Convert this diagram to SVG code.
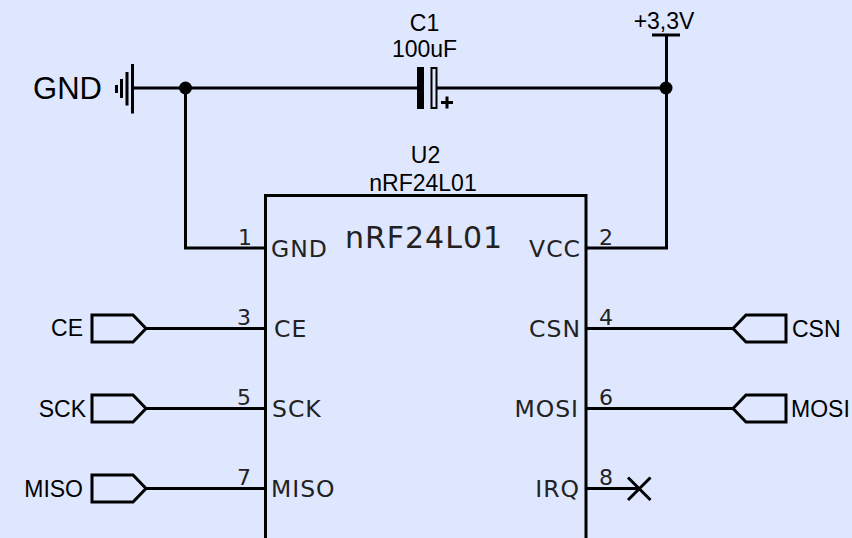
<svg xmlns="http://www.w3.org/2000/svg" width="852" height="538" viewBox="0 0 852 538">
<style>
.w{fill:none;stroke:#000;stroke-width:3;stroke-linecap:butt}
.t{fill:none;stroke:#000;stroke-width:3;stroke-linejoin:miter}
.a{font-family:"Liberation Sans",Arial,sans-serif;fill:#000}
.d{font-family:"DejaVu Sans",Verdana,sans-serif;fill:#222}
.l{font-size:23px}
.p{font-size:22px}
.n{font-size:23.500px;letter-spacing:1px}
.e{text-anchor:end}
.m{text-anchor:middle}
</style>
<rect width="852" height="538" fill="#dfe7ff"/>
<g id="connectors">
<path class="w" d="M133 88H417M437 88H667"/>
<path class="w" d="M185.500 88V248H265"/>
<path class="w" d="M666.500 35V248H586"/>
<path class="w" d="M146 328.500H265M146 408.500H265M146 488.500H265"/>
<path class="w" d="M586 328.500H733M586 408.500H733M586 488.500H639"/>
<circle cx="185.500" cy="88" r="6.500"/>
<circle cx="666" cy="88" r="6.500"/>
</g>
<g id="gnd">
<path class="w" d="M132.500 64V113.500M127 72V105.500M121.500 79V98M116.500 85V93"/>
<text class="a e" x="102" y="98.500" font-size="31">GND</text>
</g>
<g id="vcc">
<path class="w" d="M652 35H680"/>
<text class="a m" x="664" y="29" font-size="23">+3,3V</text>
</g>
<g id="C1">
<rect x="417" y="67" width="7" height="42" fill="#000"/>
<rect x="431.500" y="68" width="5" height="40" fill="none" stroke="#000" stroke-width="2"/>
<path class="w" d="M441 102.500H453M447 96.500V108.500"/>
<text class="a m" x="424.500" y="31" font-size="23">C1</text>
<text class="a m" x="424.500" y="57" font-size="23">100uF</text>
</g>
<g id="U2">
<path class="t" d="M265.500 538V195.500H586V538"/>
<text class="a m" x="425.500" y="163" font-size="23">U2</text>
<text class="a m" x="423" y="191" font-size="23">nRF24L01</text>
<text class="d m" x="424" y="248" font-size="30" letter-spacing="1">nRF24L01</text>
<text class="d n" x="271" y="257">GND</text>
<text class="d n" x="274" y="337">CE</text>
<text class="d n" x="272" y="417">SCK</text>
<text class="d n" x="271" y="497">MISO</text>
<text class="d n e" x="581" y="257">VCC</text>
<text class="d n e" x="581" y="337">CSN</text>
<text class="d n e" x="579" y="417">MOSI</text>
<text class="d n e" x="580" y="497">IRQ</text>
<text class="d p" x="238" y="245">1</text>
<text class="d p" x="599" y="245">2</text>
<text class="d p" x="237" y="325">3</text>
<text class="d p" x="599" y="325">4</text>
<text class="d p" x="237" y="405">5</text>
<text class="d p" x="599" y="405">6</text>
<text class="d p" x="237" y="485">7</text>
<text class="d p" x="599" y="485">8</text>
</g>
<g id="nc">
<path class="w" d="M628 477.500L650.500 500M650.500 477.500L628 500"/>
</g>
<g id="port-CE"><path class="t" d="M92 315H133L146 328.500L133 342H92Z"/><text class="a e l" x="83" y="336">CE</text></g>
<g id="port-SCK"><path class="t" d="M92 395H133L146 408.500L133 422H92Z"/><text class="a e l" x="86" y="417">SCK</text></g>
<g id="port-MISO"><path class="t" d="M92 475H133L146 488.500L133 502H92Z"/><text class="a e l" x="83" y="497">MISO</text></g>
<g id="port-CSN"><path class="t" d="M786 315H746L733 328.500L746 342H786Z"/><text class="a l" x="792" y="337">CSN</text></g>
<g id="port-MOSI"><path class="t" d="M786 395H746L733 408.500L746 422H786Z"/><text class="a l" x="791" y="417">MOSI</text></g>
</svg>
